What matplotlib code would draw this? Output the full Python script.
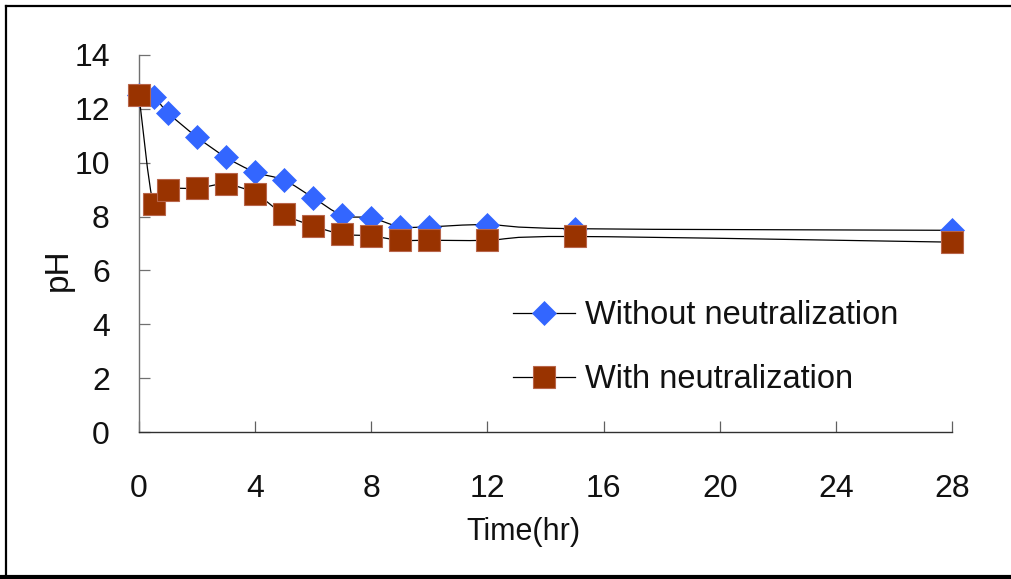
import matplotlib
matplotlib.use("Agg")
import matplotlib.pyplot as plt
from matplotlib.path import Path
from matplotlib.patches import PathPatch
from matplotlib.lines import Line2D
import numpy as np

plt.rcParams['font.family'] = ['Liberation Sans', 'DejaVu Sans']

# ---- data ----
time_without = [0, 0.5, 1, 2, 3, 4, 5, 6, 7, 8, 9, 10, 12, 15, 28]
ph_without = [12.5, 12.45, 11.85, 10.95, 10.2, 9.65, 9.35, 8.7, 8.05, 7.95, 7.62, 7.62, 7.70, 7.55, 7.49]
time_with = [0, 0.5, 1, 2, 3, 4, 5, 6, 7, 8, 9, 10, 12, 15, 28]
ph_with = [12.5, 8.45, 9.0, 9.05, 9.2, 8.85, 8.08, 7.65, 7.35, 7.28, 7.12, 7.12, 7.12, 7.26, 7.05]
label_without = "Without neutralization"
label_with = "With neutralization"
x_ticks = [0, 4, 8, 12, 16, 20, 24, 28]
y_ticks = [0, 2, 4, 6, 8, 10, 12, 14]

W, H = 1011, 579
fig = plt.figure(figsize=(W / 100, H / 100), dpi=100)
ax = fig.add_axes([139 / W, 147 / H, (952 - 139) / W, (524 - 147) / H])


def smooth_path(xs, ys):
    """Excel-like smoothed line (Catmull-Rom -> cubic Bezier)."""
    pts = np.column_stack([xs, ys]).astype(float)
    n = len(pts)
    verts = [pts[0]]
    codes = [Path.MOVETO]
    for i in range(n - 1):
        p0 = pts[i - 1] if i > 0 else pts[i]
        p1 = pts[i]
        p2 = pts[i + 1]
        p3 = pts[i + 2] if i + 2 < n else pts[i + 1]
        c1 = p1 + (p2 - p0) / 6.0
        c2 = p2 - (p3 - p1) / 6.0
        verts += [c1, c2, p2]
        codes += [Path.CURVE4] * 3
    return Path(verts, codes)


blue = '#3366FF'
brown = '#993300'

# series 1
ax.add_patch(PathPatch(smooth_path(time_without, ph_without), facecolor='none',
                       edgecolor='black', lw=0.9, zorder=2, clip_on=False))
ax.plot(time_without, ph_without, linestyle='none', marker='D', markersize=12,
        color=blue, markeredgecolor=blue, markeredgewidth=0.5, zorder=3, clip_on=False)
# series 2
ax.add_patch(PathPatch(smooth_path(time_with, ph_with), facecolor='none',
                       edgecolor='black', lw=0.9, zorder=4, clip_on=False))
ax.plot(time_with, ph_with, linestyle='none', marker='s', markersize=15.5,
        color=brown, markeredgecolor='#b8654a', markeredgewidth=0.8, zorder=5, clip_on=False)

ax.set_xlim(0, 28)
ax.set_ylim(0, 14)
ax.set_xticks(x_ticks)
ax.set_yticks(y_ticks)
ax.set_xticklabels([str(v) for v in x_ticks])
ax.set_yticklabels([str(v) for v in y_ticks])

for s in ['top', 'right']:
    ax.spines[s].set_visible(False)
ax.spines['left'].set_color('#707070')
ax.spines['bottom'].set_color('#303030')
ax.spines['left'].set_linewidth(1.0)
ax.spines['bottom'].set_linewidth(1.0)

ax.tick_params(axis='y', direction='in', length=8, width=0.9, color='#707070',
               labelsize=23, pad=21, labelcolor='#111111')
ax.tick_params(axis='x', direction='in', length=8, width=0.9, color='#606060',
               labelsize=23, pad=30, labelcolor='#111111')

# axis titles
fig.text(58 / W, 1 - 270 / H, 'pH', rotation=90, ha='center', va='center',
         fontsize=24, color='#111111')
fig.text(523 / W, 1 - 532 / H, 'Time(hr)', ha='center', va='center',
         fontsize=22, color='#111111')

# legend
h1 = Line2D([], [], color='black', lw=0.9, marker='D', markersize=12,
            markerfacecolor=blue, markeredgecolor=blue, markeredgewidth=0.5)
h2 = Line2D([], [], color='black', lw=0.9, marker='s', markersize=15.5,
            markerfacecolor=brown, markeredgecolor='#b8654a', markeredgewidth=0.8)
leg = ax.legend([h1, h2], [label_without, label_with], loc='upper left',
                bbox_to_anchor=(513 / W, 1 - 300 / H), bbox_transform=fig.transFigure,
                frameon=False, fontsize=23.5, handlelength=1.9, handletextpad=0.31,
                labelspacing=1.02, borderpad=0, borderaxespad=0, numpoints=1)
for t in leg.get_texts():
    t.set_color('#111111')

# outer frame
fig.add_artist(Line2D([6 / W, 6 / W], [1 - 6 / H, 1 - 575 / H], color='black', lw=1.6,
                      transform=fig.transFigure))
fig.add_artist(Line2D([6 / W, 1], [1 - 6 / H, 1 - 6 / H], color='black', lw=1.6,
                      transform=fig.transFigure))
fig.add_artist(Line2D([0, 1], [1 - 577 / H, 1 - 577 / H], color='black', lw=3.0,
                      transform=fig.transFigure))

fig.savefig('out.png', dpi=100)
